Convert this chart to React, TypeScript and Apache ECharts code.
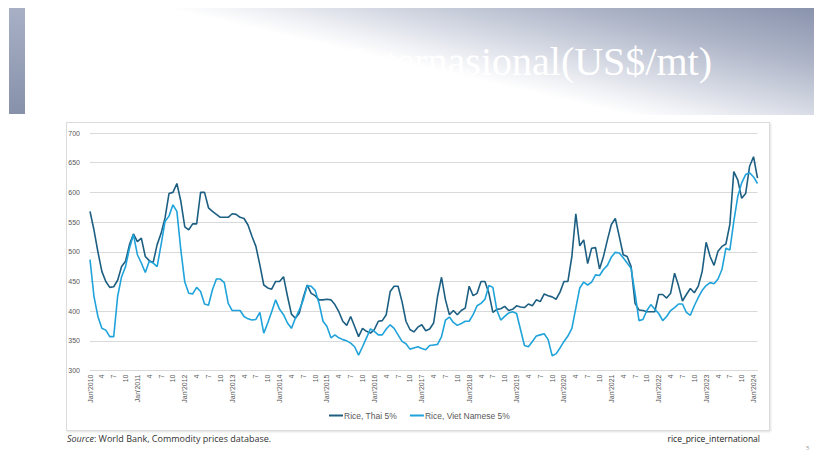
import React, { useEffect, useRef } from "react";
import * as echarts from "echarts";

const startYear = 2010;
const monthCount = 170; // Jan 2010 .. Feb 2024

const thai5 = [
  568, 537, 500, 467, 450, 440, 441, 452, 475, 484, 512, 530,
  517, 523, 492, 485, 482, 512, 531, 557, 598, 600, 615, 585,
  542, 537, 547, 547, 600, 600, 574, 568, 563, 558, 558, 558,
  564, 563, 558, 556, 545, 526, 509, 478, 444, 439, 437, 450,
  450, 458, 425, 395, 388, 397, 423, 444, 430, 426, 419, 419,
  420, 419, 411, 399, 383, 376, 391, 374, 357, 371, 366, 363,
  369, 383, 384, 394, 433, 442, 442, 416, 383, 369, 365, 373,
  377, 367, 370, 380, 425, 457, 419, 394, 401, 394, 401, 405,
  442, 426, 430, 450, 450, 430, 398, 403, 404, 408, 401, 403,
  409, 407, 406, 412, 409, 419, 416, 429, 426, 424, 420, 432,
  450, 450, 492, 564, 510, 520, 480, 506, 507, 471, 492, 520,
  546, 556, 526, 495, 492, 475, 413, 402, 401, 399, 399, 399,
  428, 428, 422, 430, 464, 443, 417, 428, 438, 431, 442, 467,
  516, 492, 477, 501, 509, 513, 546, 635, 621, 590, 598, 644,
  660, 624,
];

const vietNamese5 = [
  487, 425, 391, 371, 368, 357, 357, 425, 458, 475, 506, 529,
  495, 481, 465, 484, 481, 475, 512, 551, 560, 579, 568, 503,
  449, 430, 429, 440, 433, 412, 410, 436, 454, 454, 448, 413,
  401, 401, 401, 391, 387, 385, 386, 398, 363, 380, 399, 419,
  403, 394, 380, 371, 388, 402, 419, 443, 442, 435, 413, 383,
  374, 355, 360, 355, 352, 350, 346, 340, 326, 340, 355, 370,
  366, 360, 360, 370, 377, 371, 360, 349, 345, 336, 338, 340,
  337, 335, 342, 343, 344, 357, 385, 390, 381, 376, 379, 383,
  383, 394, 409, 413, 420, 443, 440, 402, 385, 391, 397, 399,
  396, 369, 342, 340, 349, 358, 360, 362, 352, 325, 328, 338,
  349, 358, 371, 405, 439, 449, 444, 449, 461, 460, 470, 477,
  491, 499, 498, 490, 481, 472, 430, 384, 386, 401, 411, 403,
  396, 384, 391, 401, 406, 412, 412, 398, 393, 409, 423, 435,
  443, 448, 446, 454, 470, 506, 503, 551, 593, 616, 630, 633,
  626, 615,
];

const seriesNames = ["Rice, Thai 5%", "Rice, Viet Namese 5%"];
const yTicks = { min: 300, max: 700, interval: 50 };

// category labels: "Jan'YYYY" for January, month number otherwise
const categories: string[] = [];
for (let i = 0; i < monthCount; i++) {
  const y = startYear + Math.floor(i / 12);
  const m = (i % 12) + 1;
  categories.push(m === 1 ? `Jan'${y}` : String(m));
}

const narrow = "'Liberation Sans Narrow', 'Liberation Sans', Arial, sans-serif";

export default function App() {
  const ref = useRef<HTMLDivElement>(null);

  useEffect(() => {
    if (!ref.current) return;
    const chart = echarts.init(ref.current, null, { renderer: "svg" });
    chart.setOption({
      animation: false,
      backgroundColor: "transparent",
      grid: { left: 90, top: 133, width: 667.5, bottom: 81.5, containLabel: false },
      xAxis: {
        type: "category",
        data: categories,
        boundaryGap: false,
        axisLine: { show: true, lineStyle: { color: "#d9d9d9", width: 1 } },
        axisTick: { show: false },
        axisLabel: {
          interval: (idx: number) => idx % 3 === 0,
          rotate: 90,
          fontSize: 7,
          color: "#595959",
          fontFamily: narrow,
          margin: 4,
        },
        splitLine: { show: false },
      },
      yAxis: {
        type: "value",
        min: yTicks.min,
        max: yTicks.max,
        interval: yTicks.interval,
        axisLine: { show: false },
        axisTick: { show: false },
        axisLabel: { fontSize: 7, color: "#595959", fontFamily: narrow, margin: 10 },
        splitLine: { lineStyle: { color: "#d9d9d9", width: 1 } },
      },
      legend: {
        data: seriesNames,
        top: 411,
        left: 329,
        itemWidth: 14,
        itemHeight: 2,
        itemGap: 13,
        icon: "rect",
        padding: 0,
        textStyle: { fontSize: 8.5, color: "#595959", fontFamily: narrow, padding: [0, 0, 0, -4] },
      },
      series: [
        {
          name: seriesNames[0],
          type: "line",
          data: thai5,
          showSymbol: false,
          symbol: "none",
          lineStyle: { color: "#1d5f82", width: 1.6 },
          itemStyle: { color: "#1d5f82" },
        },
        {
          name: seriesNames[1],
          type: "line",
          data: vietNamese5,
          showSymbol: false,
          symbol: "none",
          lineStyle: { color: "#1fa3da", width: 1.6 },
          itemStyle: { color: "#1fa3da" },
        },
      ],
    });
    return () => chart.dispose();
  }, []);

  return (
    <div
      style={{
        position: "absolute",
        left: 0,
        top: 0,
        width: 814,
        height: 452,
        background: "#ffffff",
        overflow: "hidden",
        fontFamily: "'Open Sans', 'Noto Sans', sans-serif",
      }}
    >
      {/* header side bar */}
      <div
        style={{
          position: "absolute",
          left: 9,
          top: 8,
          width: 16,
          height: 106,
          background: "linear-gradient(#a7b0c5, #8791aa)",
        }}
      />
      {/* header banner */}
      <div
        style={{
          position: "absolute",
          left: 30,
          top: 8,
          width: 784,
          height: 107,
          background:
            "linear-gradient(13deg, #ffffff 0%, #ffffff 48%, #f1f2f6 54%, #d6dae4 64%, #adb4c7 81%, #8a93ad 100%)",
        }}
      />
      <div
        style={{
          position: "absolute",
          left: 0,
          top: 38,
          width: 712,
          textAlign: "right",
          color: "#ffffff",
          fontFamily: "'Liberation Serif', 'Times New Roman', serif",
          fontSize: 40,
          lineHeight: "48px",
          whiteSpace: "nowrap",
        }}
      >
        Harga Beras Internasional(US$/mt)
      </div>
      {/* chart frame */}
      <div
        style={{
          position: "absolute",
          left: 66,
          top: 122,
          width: 702,
          height: 307,
          border: "1px solid #dcdcdc",
          boxShadow: "1px 1px 2px rgba(0,0,0,0.12)",
          background: "#ffffff",
        }}
      />
      <div ref={ref} style={{ position: "absolute", left: 0, top: 0, width: 814, height: 452 }} />
      {/* footer */}
      <div
        style={{
          position: "absolute",
          left: 67,
          top: 433,
          fontSize: 9,
          color: "#333333",
          whiteSpace: "nowrap",
          lineHeight: "12px",
        }}
      >
        <i>Source</i>: World Bank, Commodity prices database.
      </div>
      <div
        style={{
          position: "absolute",
          left: 560,
          width: 200,
          top: 433,
          textAlign: "right",
          fontSize: 8.5,
          color: "#222222",
          whiteSpace: "nowrap",
          lineHeight: "12px",
        }}
      >
        rice_price_international
      </div>
      <div
        style={{
          position: "absolute",
          left: 806,
          top: 444,
          fontSize: 6,
          color: "#9a9a9a",
          lineHeight: "8px",
        }}
      >
        5
      </div>
    </div>
  );
}
